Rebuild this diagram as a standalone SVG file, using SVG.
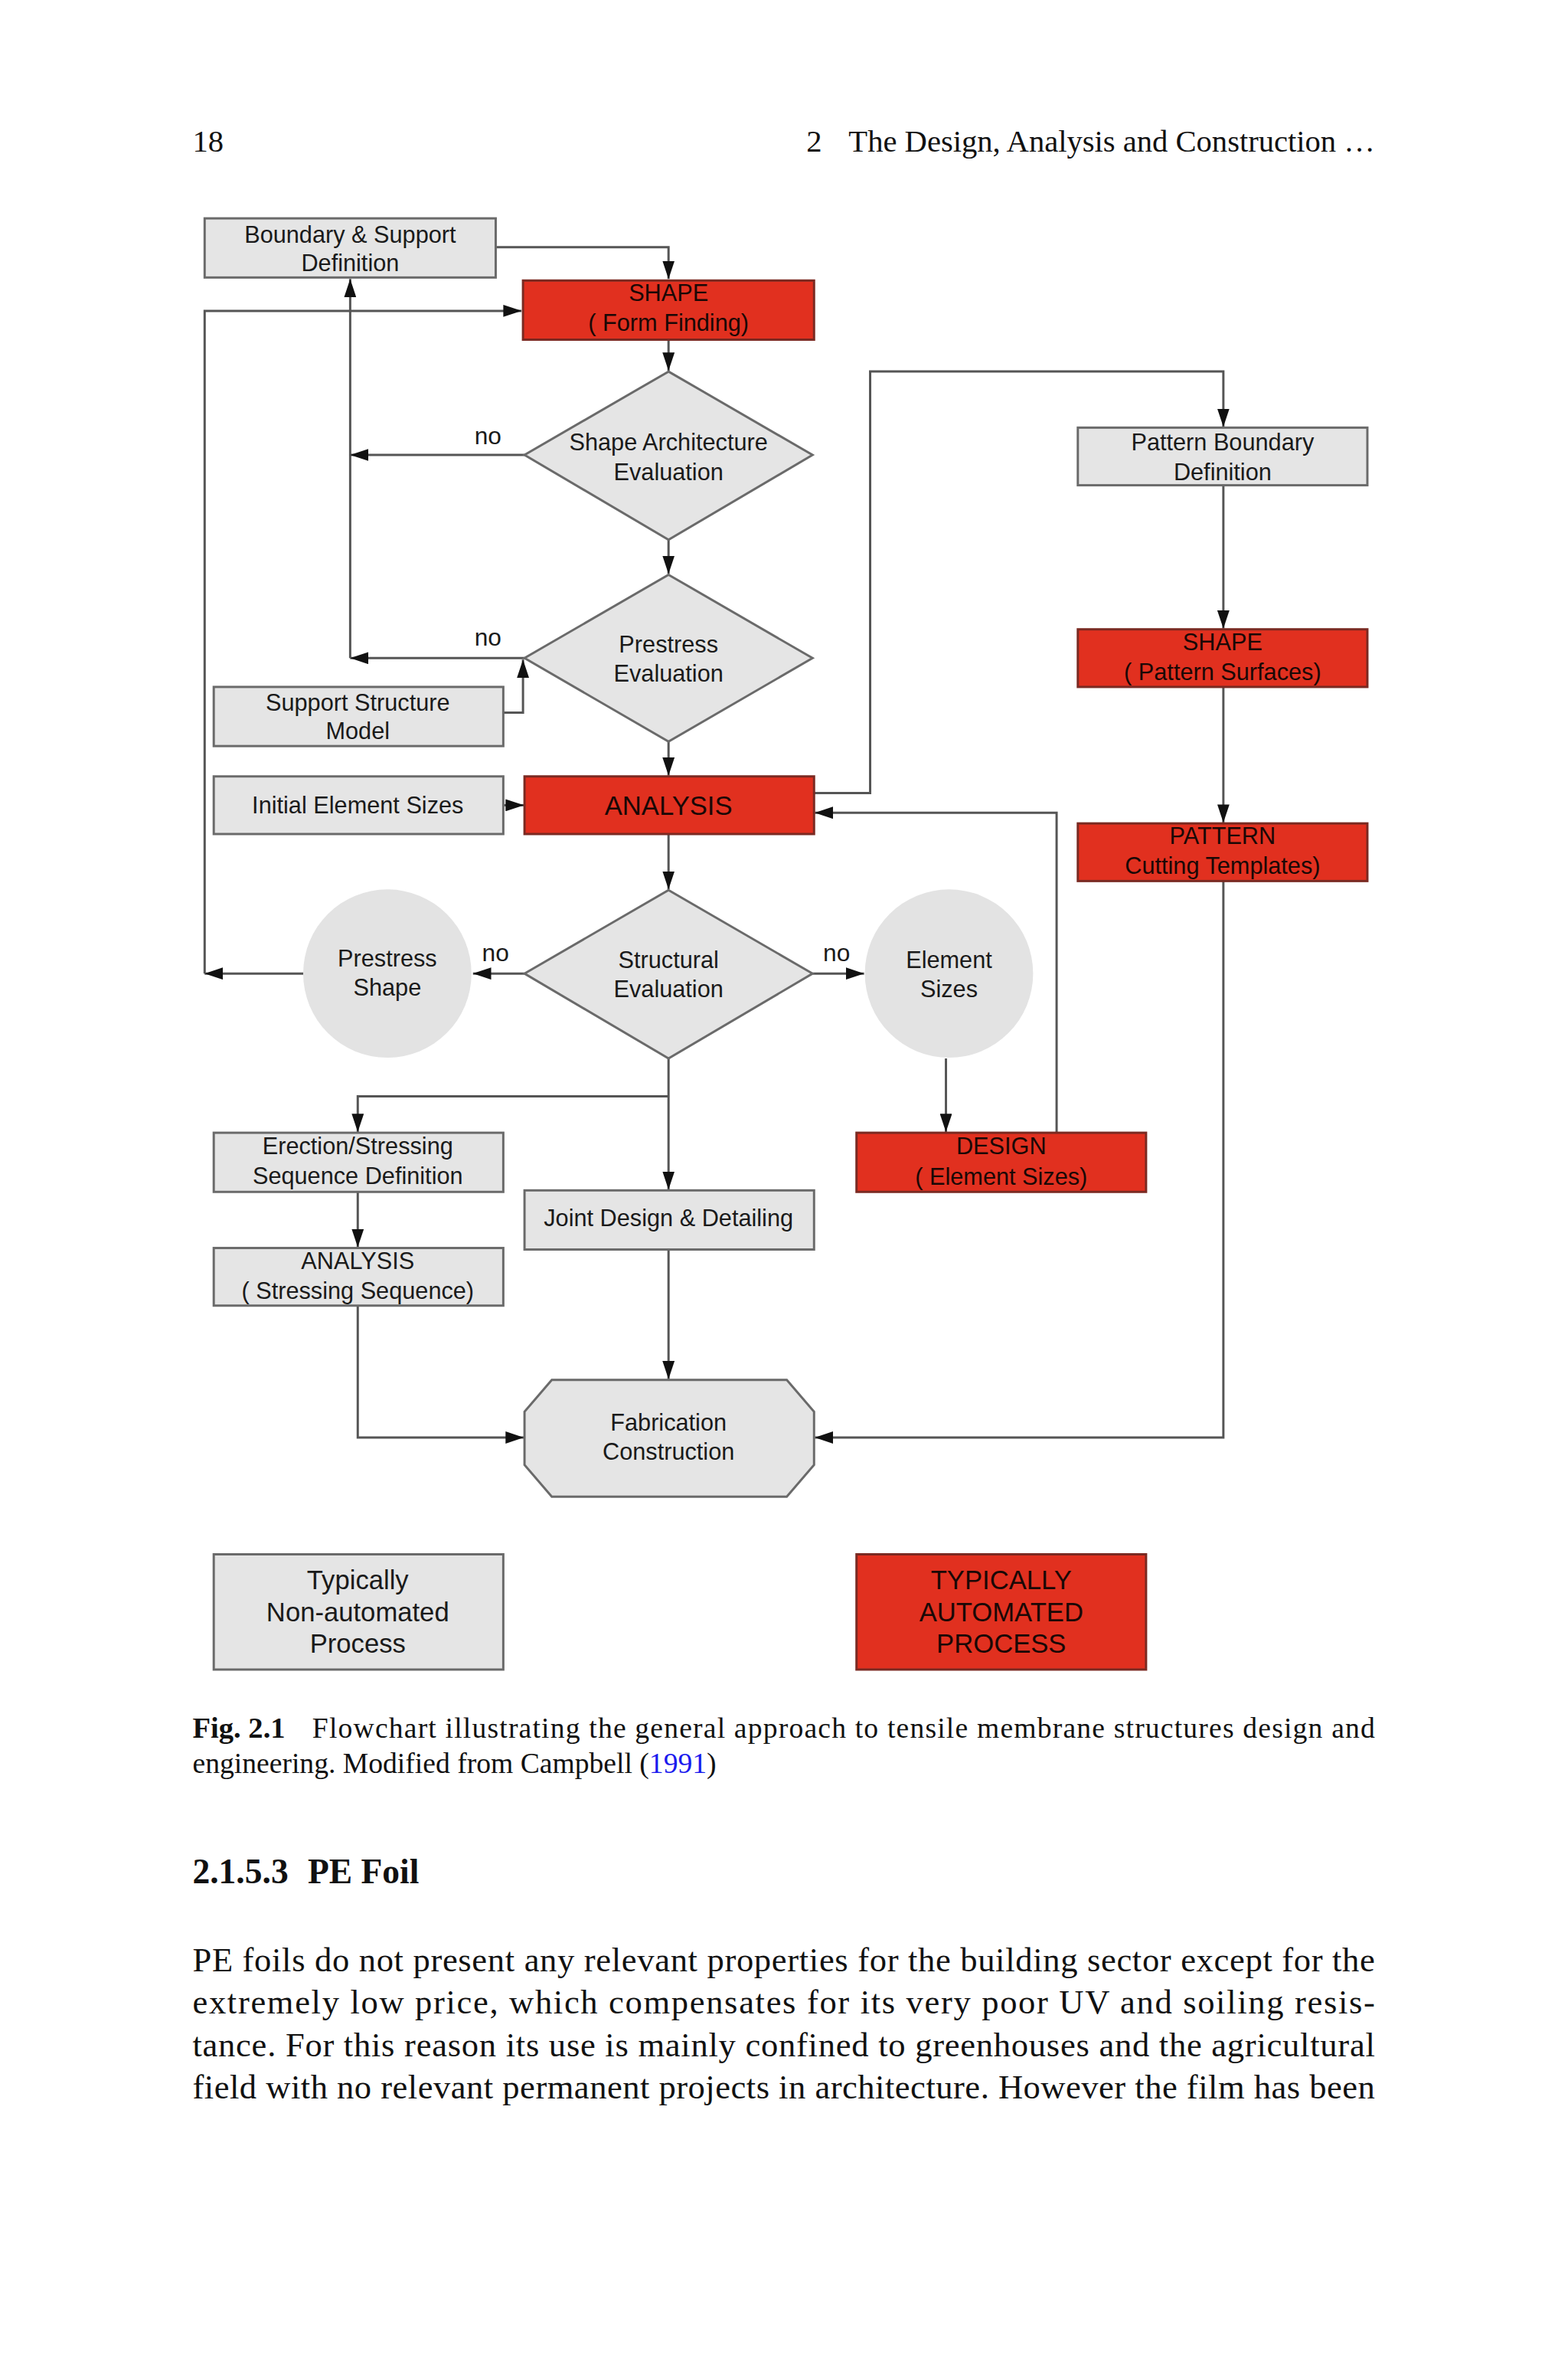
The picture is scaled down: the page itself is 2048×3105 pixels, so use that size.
<svg xmlns="http://www.w3.org/2000/svg" width="2048" height="3105" viewBox="0 0 2048 3105">
<style>
.bg{fill:#ffffff}
.box{fill:#e5e5e5;stroke:#6a6a6a;stroke-width:3}
.red{fill:#e1301f;stroke:#7a2a22;stroke-width:3}
.circ{fill:#e3e3e3;stroke:none}
.t{font-family:"Liberation Sans",Arial,sans-serif;font-size:31px;fill:#1a1a1a;text-anchor:middle}
.tr{font-family:"Liberation Sans",Arial,sans-serif;font-size:31px;fill:#1a0806;text-anchor:middle}
.big{font-size:35px}
.no{font-family:"Liberation Sans",Arial,sans-serif;font-size:32px;fill:#1a1a1a}
.c{fill:none;stroke:#555555;stroke-width:3}
.s{font-family:"Liberation Serif","Times New Roman",serif;fill:#111111}
</style>
<defs>
<marker id="arr" markerUnits="userSpaceOnUse" markerWidth="24" markerHeight="16" refX="24" refY="8" orient="auto">
<path d="M0,0 L24,8 L0,16 z" fill="#111111"/>
</marker>
</defs>
<rect class="bg" x="0" y="0" width="2048" height="3105"/>
<g transform="scale(0.99)">
<g id="header">
<text class="s" x="254" y="200" font-size="41">18</text>
<text class="s" x="1064" y="200" font-size="41">2</text>
<text class="s" x="1814" y="200" font-size="41" text-anchor="end">The Design, Analysis and Construction …</text>
</g>

<g id="connectors">
<path class="c" d="M654,326 H882 V368" marker-end="url(#arr)"/>
<path class="c" d="M270,1284 V410 H688" marker-end="url(#arr)"/>
<path class="c" d="M400,1284 H270" marker-end="url(#arr)"/>
<path class="c" d="M462,868 V368" marker-end="url(#arr)"/>
<path class="c" d="M692,600 H462" marker-end="url(#arr)"/>
<path class="c" d="M692,868 H462" marker-end="url(#arr)"/>
<path class="c" d="M882,448 V489" marker-end="url(#arr)"/>
<path class="c" d="M882,712 V757" marker-end="url(#arr)"/>
<path class="c" d="M664,940 H690 V870" marker-end="url(#arr)"/>
<path class="c" d="M882,978 V1023" marker-end="url(#arr)"/>
<path class="c" d="M664,1062 H691" marker-end="url(#arr)"/>
<path class="c" d="M1074,1046 H1148 V490 H1614 V563" marker-end="url(#arr)"/>
<path class="c" d="M1614,640 V829" marker-end="url(#arr)"/>
<path class="c" d="M1614,906 V1085" marker-end="url(#arr)"/>
<path class="c" d="M1614,1162 V1896 H1075" marker-end="url(#arr)"/>
<path class="c" d="M1394,1494 V1072 H1075" marker-end="url(#arr)"/>
<path class="c" d="M882,1100 V1173" marker-end="url(#arr)"/>
<path class="c" d="M692,1284 H624" marker-end="url(#arr)"/>
<path class="c" d="M1072,1284 H1140" marker-end="url(#arr)"/>
<path class="c" d="M1248,1396 V1493" marker-end="url(#arr)"/>
<path class="c" d="M882,1396 V1569" marker-end="url(#arr)"/>
<path class="c" d="M882,1446 H472 V1493" marker-end="url(#arr)"/>
<path class="c" d="M472,1572 V1645" marker-end="url(#arr)"/>
<path class="c" d="M472,1722 V1896 H691" marker-end="url(#arr)"/>
<path class="c" d="M882,1648 V1819" marker-end="url(#arr)"/>
<text class="no" x="626" y="586">no</text>
<text class="no" x="626" y="852">no</text>
<text class="no" x="636" y="1268">no</text>
<text class="no" x="1086" y="1268">no</text>
</g>

<g id="boundary">
<rect class="box" x="270" y="288" width="384" height="78"/>
<text class="t" x="462" y="320">Boundary &amp; Support</text>
<text class="t" x="462" y="358">Definition</text>
</g>
<g id="shape-form">
<rect class="red" x="690" y="370" width="384" height="78"/>
<text class="tr" x="882" y="397">SHAPE</text>
<text class="tr" x="882" y="436">( Form Finding)</text>
</g>
<g id="shape-arch-eval">
<polygon class="box" points="882,490 1072,600 882,712 692,600"/>
<text class="t" x="882" y="594">Shape Architecture</text>
<text class="t" x="882" y="633">Evaluation</text>
</g>
<g id="prestress-eval">
<polygon class="box" points="882,758 1072,868 882,978 692,868"/>
<text class="t" x="882" y="861">Prestress</text>
<text class="t" x="882" y="899">Evaluation</text>
</g>
<g id="support-structure">
<rect class="box" x="282" y="906" width="382" height="78"/>
<text class="t" x="472" y="937">Support Structure</text>
<text class="t" x="472" y="975">Model</text>
</g>
<g id="initial-element">
<rect class="box" x="282" y="1024" width="382" height="76"/>
<text class="t" x="472" y="1073">Initial Element Sizes</text>
</g>
<g id="analysis">
<rect class="red" x="692" y="1024" width="382" height="76"/>
<text class="tr big" x="882" y="1075">ANALYSIS</text>
</g>
<g id="pattern-boundary">
<rect class="box" x="1422" y="564" width="382" height="76"/>
<text class="t" x="1613" y="594">Pattern Boundary</text>
<text class="t" x="1613" y="633">Definition</text>
</g>
<g id="shape-pattern">
<rect class="red" x="1422" y="830" width="382" height="76"/>
<text class="tr" x="1613" y="858">SHAPE</text>
<text class="tr" x="1613" y="897">( Pattern Surfaces)</text>
</g>
<g id="pattern-cutting">
<rect class="red" x="1422" y="1086" width="382" height="76"/>
<text class="tr" x="1613" y="1113">PATTERN</text>
<text class="tr" x="1613" y="1153">Cutting Templates)</text>
</g>
<g id="structural-eval">
<polygon class="box" points="882,1174 1072,1284 882,1396 692,1284"/>
<text class="t" x="882" y="1277">Structural</text>
<text class="t" x="882" y="1315">Evaluation</text>
</g>
<g id="prestress-shape">
<ellipse class="circ" cx="511" cy="1284" rx="111" ry="111"/>
<text class="t" x="511" y="1275">Prestress</text>
<text class="t" x="511" y="1313">Shape</text>
</g>
<g id="element-sizes">
<ellipse class="circ" cx="1252" cy="1284" rx="111" ry="111"/>
<text class="t" x="1252" y="1277">Element</text>
<text class="t" x="1252" y="1315">Sizes</text>
</g>
<g id="design">
<rect class="red" x="1130" y="1494" width="382" height="78"/>
<text class="tr" x="1321" y="1522">DESIGN</text>
<text class="tr" x="1321" y="1563">( Element Sizes)</text>
</g>
<g id="erection">
<rect class="box" x="282" y="1494" width="382" height="78"/>
<text class="t" x="472" y="1522">Erection/Stressing</text>
<text class="t" x="472" y="1562">Sequence Definition</text>
</g>
<g id="analysis-stressing">
<rect class="box" x="282" y="1646" width="382" height="76"/>
<text class="t" x="472" y="1674">ANALYSIS</text>
<text class="t" x="472" y="1713">( Stressing Sequence)</text>
</g>
<g id="joint-design">
<rect class="box" x="692" y="1570" width="382" height="78"/>
<text class="t" x="882" y="1617">Joint Design &amp; Detailing</text>
</g>
<g id="fabrication">
<polygon class="box" points="728,1820 1038,1820 1074,1862 1074,1932 1038,1974 728,1974 692,1932 692,1862"/>
<text class="t" x="882" y="1887">Fabrication</text>
<text class="t" x="882" y="1925">Construction</text>
</g>
<g id="legend-manual">
<rect class="box" x="282" y="2050" width="382" height="152"/>
<text class="t big" x="472" y="2096">Typically</text>
<text class="t big" x="472" y="2138">Non-automated</text>
<text class="t big" x="472" y="2180">Process</text>
</g>
<g id="legend-auto">
<rect class="red" x="1130" y="2050" width="382" height="152"/>
<text class="tr big" x="1321" y="2096">TYPICALLY</text>
<text class="tr big" x="1321" y="2138">AUTOMATED</text>
<text class="tr big" x="1321" y="2180">PROCESS</text>
</g>

<g id="caption">
<text class="s" x="254" y="2292" font-size="39" font-weight="bold">Fig. 2.1</text>
<text class="s" x="412" y="2292" font-size="38" textLength="1402" lengthAdjust="spacing">Flowchart illustrating the general approach to tensile membrane structures design and</text>
<text class="s" x="254" y="2338" font-size="38">engineering. Modified from Campbell (<tspan fill="#1a1aee">1991</tspan>)</text>
<text class="s" x="254" y="2484" font-size="46" font-weight="bold">2.1.5.3</text>
<text class="s" x="406" y="2484" font-size="46" font-weight="bold">PE Foil</text>
<text class="s" x="254" y="2600" font-size="45" textLength="1560" lengthAdjust="spacing">PE foils do not present any relevant properties for the building sector except for the</text>
<text class="s" x="254" y="2656" font-size="45" textLength="1560" lengthAdjust="spacing">extremely low price, which compensates for its very poor UV and soiling resis-</text>
<text class="s" x="254" y="2712" font-size="45" textLength="1560" lengthAdjust="spacing">tance. For this reason its use is mainly confined to greenhouses and the agricultural</text>
<text class="s" x="254" y="2768" font-size="45" textLength="1560" lengthAdjust="spacing">field with no relevant permanent projects in architecture. However the film has been</text>
</g>
</g>
</svg>
